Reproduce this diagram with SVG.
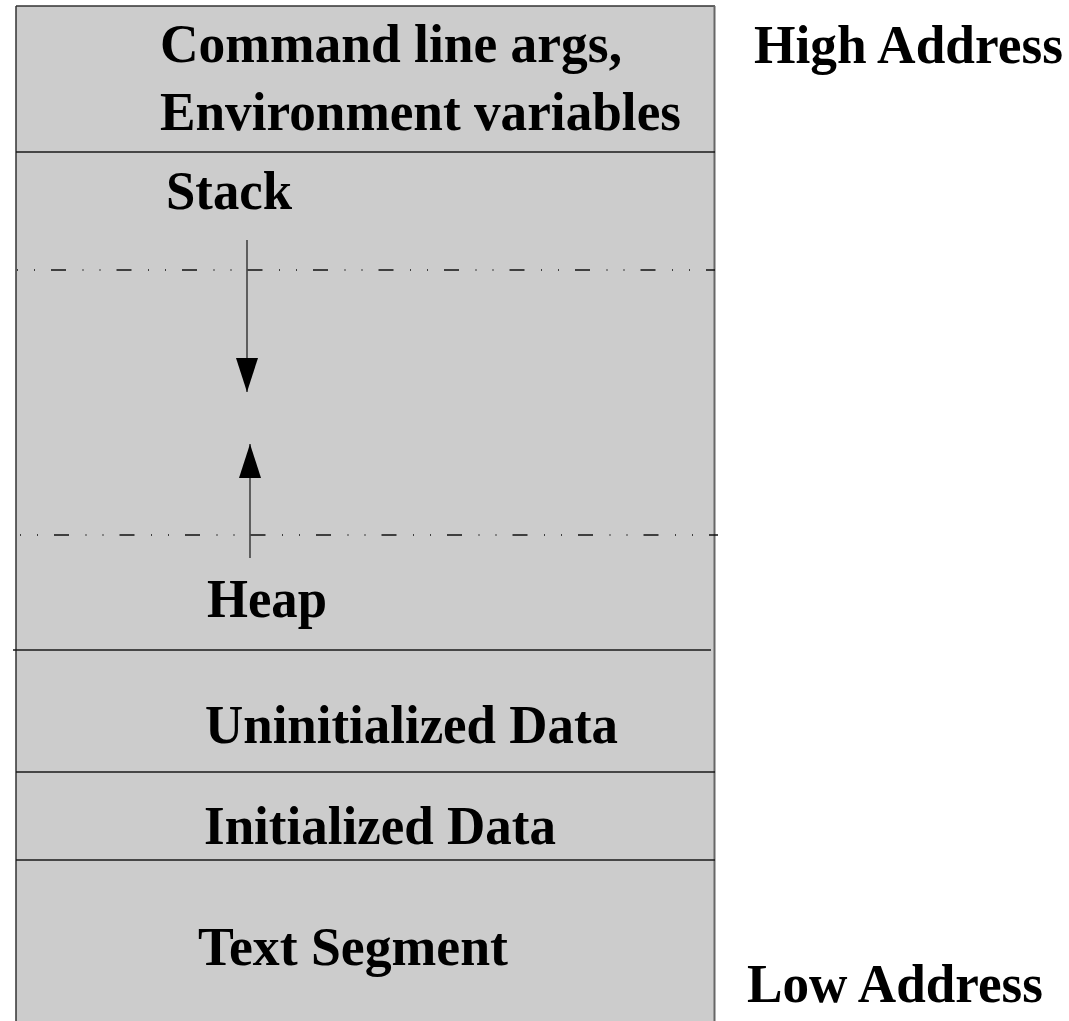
<svg xmlns="http://www.w3.org/2000/svg" width="1069" height="1021" viewBox="0 0 1069 1021">
  <style>
    .lbl { font-family: "Liberation Serif", "Times New Roman", serif; font-weight: bold; font-size: 54px; fill: #000; }
    .sep { stroke: #1a1a1a; stroke-width: 1.4; fill: none; }
    .dd { stroke: #111; stroke-width: 1.4; fill: none; stroke-dasharray: 1 16 1 16 15 16.5; }
    .arr { stroke: #222; stroke-width: 1.3; fill: none; }
  </style>
  <defs>
    <marker id="head" viewBox="0 0 34 22" refX="34" refY="11" markerWidth="34" markerHeight="22" markerUnits="userSpaceOnUse" orient="auto">
      <path d="M0,0 L34,11 L0,22 Z" fill="#000"/>
    </marker>
  </defs>
  <rect width="1069" height="1021" fill="#fff"/>

  <!-- memory block outline -->
  <g id="memory">
    <rect x="16" y="6" width="699" height="1030" fill="#cccccc" stroke="none"/>
    <line x1="16" y1="6" x2="16" y2="1021" stroke="#333" stroke-width="1.5"/>
    <line x1="16" y1="6" x2="715" y2="6" stroke="#333" stroke-width="1.5"/>
    <line x1="714.5" y1="6" x2="714.5" y2="1021" stroke="#666" stroke-width="2"/>
  </g>

  <!-- segment boundaries -->
  <g id="boundaries">
    <line class="sep" x1="16" y1="152" x2="715" y2="152"/>
    <line class="dd" x1="17" y1="270" x2="715" y2="270"/>
    <line class="dd" x1="20" y1="535" x2="718" y2="535"/>
    <line class="sep" x1="13" y1="650" x2="711" y2="650"/>
    <line class="sep" x1="16" y1="772" x2="715" y2="772"/>
    <line class="sep" x1="16" y1="860" x2="715" y2="860"/>
  </g>

  <g id="args">
    <text class="lbl" x="160" y="62" textLength="462" lengthAdjust="spacingAndGlyphs">Command line args,</text>
    <text class="lbl" x="160" y="130" textLength="521" lengthAdjust="spacingAndGlyphs">Environment variables</text>
  </g>
  <g id="stack">
    <text class="lbl" x="166" y="209" textLength="126" lengthAdjust="spacingAndGlyphs">Stack</text>
  </g>
  <g id="heap">
    <text class="lbl" x="207" y="617" textLength="120" lengthAdjust="spacingAndGlyphs">Heap</text>
  </g>
  <g id="bss">
    <text class="lbl" x="205" y="743" textLength="413" lengthAdjust="spacingAndGlyphs">Uninitialized Data</text>
  </g>
  <g id="data">
    <text class="lbl" x="204" y="844" textLength="352" lengthAdjust="spacingAndGlyphs">Initialized Data</text>
  </g>
  <g id="text-segment">
    <text class="lbl" x="198" y="965" textLength="310" lengthAdjust="spacingAndGlyphs">Text Segment</text>
  </g>
  <g id="high-address">
    <text class="lbl" x="754" y="63" textLength="309" lengthAdjust="spacingAndGlyphs">High Address</text>
  </g>
  <g id="low-address">
    <text class="lbl" x="747" y="1002" textLength="296" lengthAdjust="spacingAndGlyphs">Low Address</text>
  </g>

  <!-- growth directions -->
  <g id="connectors">
    <line class="arr" x1="247" y1="240" x2="247" y2="392" marker-end="url(#head)"/>
    <line class="arr" x1="250" y1="558" x2="250" y2="444" marker-end="url(#head)"/>
  </g>
</svg>
